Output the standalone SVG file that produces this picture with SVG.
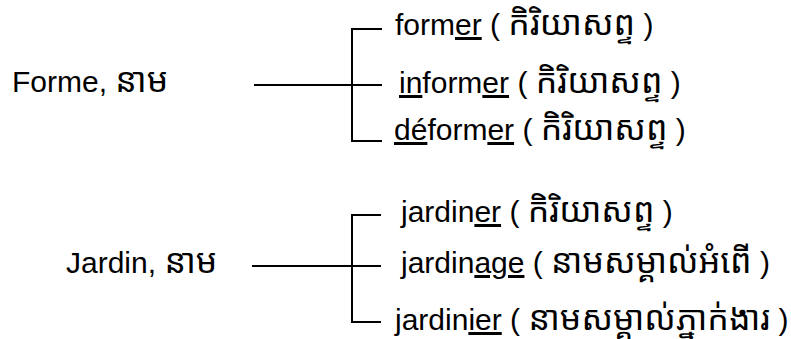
<svg xmlns="http://www.w3.org/2000/svg" width="791" height="339" viewBox="0 0 791 339">
<style>
text{font-family:"Liberation Sans","Noto Sans Khmer","Khmer OS",Arial,sans-serif;font-size:30px;fill:#000}
.u{text-decoration:underline}
.k{font-size:34px}
.c{fill:none;stroke:#000;stroke-width:2}
</style>
<rect width="791" height="339" fill="#fff"/>
<g id="connectors">
<path class="c" d="M254 85H382M382 29H352V141H382"/>
<path class="c" d="M252 266H381M381 215H352V322H381"/>
</g>
<g id="forme"><text x="12" y="92">Forme, <tspan class="k">នាម</tspan></text></g>
<g id="former"><text x="395" y="35">form<tspan class="u">er</tspan> ( <tspan class="k">កិរិយាសព្ទ</tspan> )</text></g>
<g id="informer"><text x="399" y="93"><tspan class="u">in</tspan>form<tspan class="u">er</tspan> ( <tspan class="k">កិរិយាសព្ទ</tspan> )</text></g>
<g id="deformer"><text x="394" y="140"><tspan class="u">dé</tspan>form<tspan class="u">er</tspan> ( <tspan class="k">កិរិយាសព្ទ</tspan> )</text></g>
<g id="jardin"><text x="66" y="273">Jardin, <tspan class="k">នាម</tspan></text></g>
<g id="jardiner"><text x="401" y="222">jardin<tspan class="u">er</tspan> ( <tspan class="k">កិរិយាសព្ទ</tspan> )</text></g>
<g id="jardinage"><text x="401" y="273">jardin<tspan class="u">age</tspan> ( <tspan class="k">នាមសម្គាល់អំពើ</tspan> )</text></g>
<g id="jardinier"><text x="395" y="330">jardin<tspan class="u">ier</tspan> ( <tspan class="k">នាមសម្គាល់ភ្នាក់ងារ</tspan> )</text></g>
</svg>
